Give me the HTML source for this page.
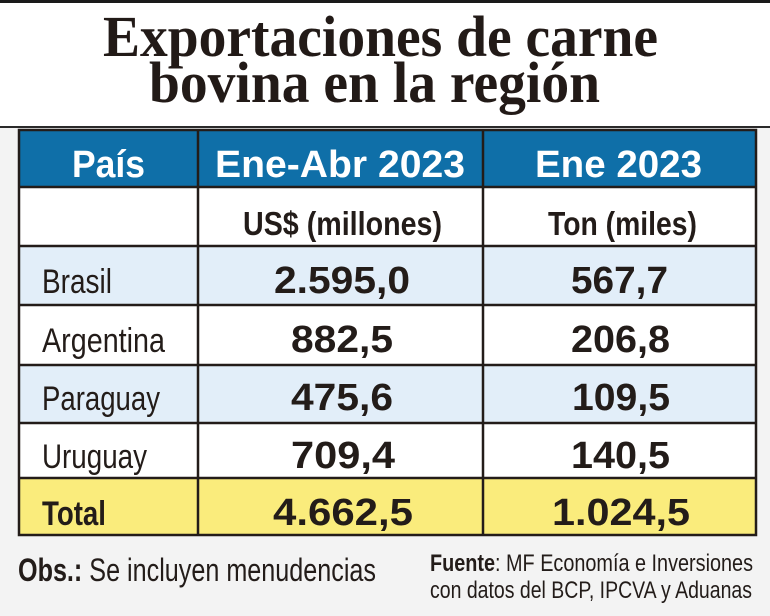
<!DOCTYPE html>
<html><head><meta charset="utf-8"><style>
html,body{margin:0;padding:0;background:#f3f3f3;}
svg{display:block;}
</style></head><body>
<svg width="770" height="616" xmlns="http://www.w3.org/2000/svg">
<rect x="0" y="0" width="770" height="616" fill="#f3f3f3"/>
<rect x="0" y="0" width="770" height="128" fill="#fff"/>
<rect x="0" y="0" width="770" height="3" fill="#1a1a1a"/>
<rect x="0" y="126" width="770" height="2" fill="#2a2a2a"/>
<g font-family="Liberation Serif, serif" font-weight="bold" font-size="58" fill="#221a17">
<text x="103" y="56" textLength="555" lengthAdjust="spacingAndGlyphs">Exportaciones de carne</text>
<text x="149" y="102" textLength="451" lengthAdjust="spacingAndGlyphs">bovina en la región</text>
</g>
<rect x="19" y="130" width="737" height="57" fill="#0f6fa8"/>
<rect x="19" y="187" width="737" height="59" fill="#fff"/>
<rect x="19" y="246" width="737" height="59" fill="#e2eef9"/>
<rect x="19" y="305" width="737" height="60" fill="#fff"/>
<rect x="19" y="365" width="737" height="58" fill="#e2eef9"/>
<rect x="19" y="423" width="737" height="55" fill="#fff"/>
<rect x="19" y="478" width="737" height="57" fill="#faec7c"/>
<g stroke="#231c19" stroke-width="2.5" fill="none">
<rect x="19" y="130" width="737" height="405"/>
<line x1="198" y1="130" x2="198" y2="535"/>
<line x1="483" y1="130" x2="483" y2="535"/>
<line x1="19" y1="187" x2="756" y2="187"/>
<line x1="19" y1="246" x2="756" y2="246"/>
<line x1="19" y1="305" x2="756" y2="305"/>
<line x1="19" y1="365" x2="756" y2="365"/>
<line x1="19" y1="423" x2="756" y2="423"/>
<line x1="19" y1="478" x2="756" y2="478"/>
</g>
<g font-family="Liberation Sans, sans-serif" font-weight="bold" fill="#fff" font-size="38">
<text x="72" y="177" textLength="73" lengthAdjust="spacingAndGlyphs">País</text>
<text x="215" y="177" textLength="250" lengthAdjust="spacingAndGlyphs">Ene-Abr 2023</text>
<text x="535" y="177" textLength="167" lengthAdjust="spacingAndGlyphs">Ene 2023</text>
</g>
<g font-family="Liberation Sans, sans-serif" font-weight="bold" fill="#231c19" font-size="33">
<text x="243" y="235" textLength="199" lengthAdjust="spacingAndGlyphs">US$ (millones)</text>
<text x="548" y="235" textLength="149" lengthAdjust="spacingAndGlyphs">Ton (miles)</text>
</g>
<g font-family="Liberation Sans, sans-serif" fill="#231c19" font-size="34">
<text x="42" y="293" textLength="70" lengthAdjust="spacingAndGlyphs">Brasil</text>
<text x="42" y="352" textLength="123" lengthAdjust="spacingAndGlyphs">Argentina</text>
<text x="42" y="410" textLength="118" lengthAdjust="spacingAndGlyphs">Paraguay</text>
<text x="42" y="468" textLength="105" lengthAdjust="spacingAndGlyphs">Uruguay</text>
<text x="42" y="525" textLength="64" lengthAdjust="spacingAndGlyphs" font-weight="bold">Total</text>
</g>
<g font-family="Liberation Sans, sans-serif" font-weight="bold" fill="#231c19" font-size="38">
<text x="274" y="293" textLength="136" lengthAdjust="spacingAndGlyphs">2.595,0</text>
<text x="571" y="293" textLength="97" lengthAdjust="spacingAndGlyphs">567,7</text>
<text x="291" y="352" textLength="102" lengthAdjust="spacingAndGlyphs">882,5</text>
<text x="571" y="352" textLength="99" lengthAdjust="spacingAndGlyphs">206,8</text>
<text x="291" y="410" textLength="102" lengthAdjust="spacingAndGlyphs">475,6</text>
<text x="572" y="410" textLength="98" lengthAdjust="spacingAndGlyphs">109,5</text>
<text x="291" y="468" textLength="104" lengthAdjust="spacingAndGlyphs">709,4</text>
<text x="571" y="468" textLength="99" lengthAdjust="spacingAndGlyphs">140,5</text>
<text x="273" y="525" textLength="140" lengthAdjust="spacingAndGlyphs">4.662,5</text>
<text x="552" y="525" textLength="138" lengthAdjust="spacingAndGlyphs">1.024,5</text>
</g>
<g font-family="Liberation Sans, sans-serif" fill="#231c19">
<text x="18" y="581" font-size="32" textLength="358" lengthAdjust="spacingAndGlyphs"><tspan font-weight="bold">Obs.:</tspan> Se incluyen menudencias</text>
<text x="430" y="571" font-size="24" textLength="323" lengthAdjust="spacingAndGlyphs"><tspan font-weight="bold">Fuente</tspan>: MF Economía e Inversiones</text>
<text x="430" y="598" font-size="24" textLength="322" lengthAdjust="spacingAndGlyphs">con datos del BCP, IPCVA y Aduanas</text>
</g>
</svg>
</body></html>
